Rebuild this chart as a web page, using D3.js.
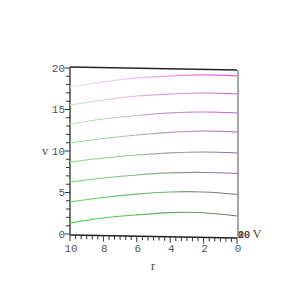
<!DOCTYPE html>
<html>
<head>
<meta charset="utf-8">
<script src="https://cdn.jsdelivr.net/npm/d3@7"></script>
<style>
  body { margin: 0; background: #fff; }
  svg { display: block; }
</style>
</head>
<body>
<div id="chart"></div>
<script>
const rVals = [10, 8, 6, 4, 2, 0];
// one array of v values per curve (bottom to top)
const curve1 = [1.33, 2.00, 2.45, 2.80, 2.85, 2.53];
const curve2 = [3.86, 4.47, 4.96, 5.28, 5.35, 5.12];
const curve3 = [6.27, 6.82, 7.25, 7.57, 7.70, 7.65];
const curve4 = [8.67, 9.23, 9.66, 9.98, 10.17, 10.12];
const curve5 = [10.96, 11.58, 12.07, 12.45, 12.70, 12.65];
const curve6 = [13.25, 13.93, 14.42, 14.80, 14.99, 14.94];
const curve7 = [15.54, 16.22, 16.77, 17.08, 17.28, 17.23];
const curve8 = [17.71, 18.39, 18.94, 19.25, 19.45, 19.40];
const curves = [curve1, curve2, curve3, curve4, curve5, curve6, curve7, curve8];

const rTicks = [10, 8, 6, 4, 2, 0];
const vTicks = [0, 5, 10, 15, 20];
const depthTicks = ["0", "10", "20"];

const width = 307, height = 307;
const pLeft = 70, pRight = 237, pTop = 68, pBottom = 234;
const skew = 3 / (pRight - pLeft); // the box leans a little (perspective view)

const x = d3.scaleLinear().domain([10, 0]).range([pLeft, pRight]);
const y = d3.scaleLinear().domain([0, 20]).range([pBottom, pTop]);

const svg = d3.select("#chart").append("svg")
    .attr("width", width)
    .attr("height", height);

const defs = svg.append("defs");

// plot area, sheared slightly like the 3d box
const g = svg.append("g")
    .attr("transform", `matrix(1,${skew},0,1,0,${-pLeft * skew})`);

// frame
g.append("line").attr("x1", pLeft).attr("x2", pRight).attr("y1", pTop - 1).attr("y2", pTop - 1)
    .attr("stroke", "#222").attr("stroke-width", 1.3);
g.append("line").attr("x1", pRight + 1).attr("x2", pRight + 1).attr("y1", pTop - 1).attr("y2", pBottom + 1)
    .attr("stroke", "#777").attr("stroke-width", 1.3);
g.append("line").attr("x1", pLeft).attr("x2", pRight).attr("y1", pBottom + 1).attr("y2", pBottom + 1)
    .attr("stroke", "#222").attr("stroke-width", 1.3);
g.append("line").attr("x1", pLeft).attr("x2", pLeft).attr("y1", pTop - 1).attr("y2", pBottom + 1)
    .attr("stroke", "#555").attr("stroke-width", 1.6);

// minor + major ticks on v
g.append("g").selectAll("line")
    .data(d3.range(0, 21))
    .join("line")
    .attr("x1", d => d % 5 === 0 ? pLeft - 5 : pLeft - 4)
    .attr("x2", pLeft)
    .attr("y1", d => y(d))
    .attr("y2", d => y(d))
    .attr("stroke", "#333")
    .attr("stroke-width", 1);

// ticks on r, every third of a unit
g.append("g").selectAll("line")
    .data(d3.range(0, 31).map(i => i / 3))
    .join("line")
    .attr("x1", d => x(d))
    .attr("x2", d => x(d))
    .attr("y1", pBottom + 1)
    .attr("y2", d => Math.abs(d - Math.round(d)) < 1e-6 && Math.round(d) % 2 === 0 ? pBottom + 7 : pBottom + 5)
    .attr("stroke", "#333")
    .attr("stroke-width", 1);

// colours: green at r=10 fading to grey/magenta at r=0, lighter higher up
const leftCol = d3.interpolateRgb("#3be03b", "#e0ece0");
const midCol = d3.interpolateRgb("#5cb85c", "#f2a6f2");
const rightCol = d3.interpolateRgb("#707070", "#e64ae6");

const line = d3.line()
    .x((d, i) => x(rVals[i]))
    .y(d => y(d))
    .curve(d3.curveNatural);

curves.forEach((c, k) => {
    const t = k / (curves.length - 1);
    const grad = defs.append("linearGradient")
        .attr("id", "g" + k)
        .attr("gradientUnits", "userSpaceOnUse")
        .attr("x1", pLeft).attr("x2", pRight)
        .attr("y1", 0).attr("y2", 0);
    grad.append("stop").attr("offset", 0).attr("stop-color", leftCol(t));
    grad.append("stop").attr("offset", 0.5).attr("stop-color", midCol(t));
    grad.append("stop").attr("offset", 1).attr("stop-color", rightCol(t));

    g.append("path")
        .datum(c)
        .attr("d", line)
        .attr("fill", "none")
        .attr("stroke", `url(#g${k})`)
        .attr("stroke-width", 1.2);
});

// labels (not sheared)
const numFont = "'Liberation Mono', monospace";
svg.append("g")
    .attr("font-family", numFont)
    .attr("font-size", 11)
    .attr("fill", "#555")
    .attr("text-anchor", "end")
    .selectAll("text")
    .data(vTicks)
    .join("text")
    .attr("x", pLeft - 5)
    .attr("y", d => y(d))
    .attr("dy", "0.35em")
    .text(d => d);

svg.append("g")
    .attr("font-family", numFont)
    .attr("font-size", 11)
    .attr("fill", "#555")
    .attr("text-anchor", "middle")
    .selectAll("text")
    .data(rTicks)
    .join("text")
    .attr("x", d => x(d) + 1)
    .attr("y", 252)
    .text(d => d);

// collapsed third axis, its labels all land on one spot
svg.append("g")
    .attr("font-family", numFont)
    .attr("font-size", 10)
    .attr("fill", "#444")
    .selectAll("text")
    .data(depthTicks)
    .join("text")
    .attr("x", 238)
    .attr("y", 238)
    .text(d => d);

const axisFont = "'Liberation Serif', serif";
svg.append("text").attr("x", 45).attr("y", y(10)).attr("dy", "0.35em")
    .attr("font-family", axisFont).attr("font-size", 12).attr("fill", "#444")
    .attr("text-anchor", "middle").text("v");
svg.append("text").attr("x", 153).attr("y", 270)
    .attr("font-family", axisFont).attr("font-size", 12).attr("fill", "#444")
    .attr("text-anchor", "middle").text("r");
svg.append("text").attr("x", 257).attr("y", 238)
    .attr("font-family", axisFont).attr("font-size", 12).attr("fill", "#444")
    .attr("text-anchor", "middle").text("V");
</script>
</body>
</html>
